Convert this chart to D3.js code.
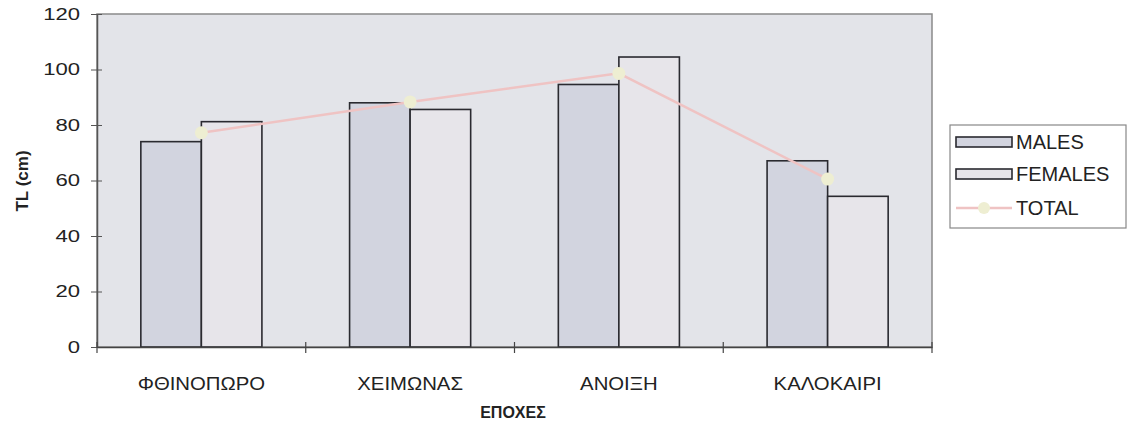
<!DOCTYPE html>
<html><head><meta charset="utf-8">
<script src="https://cdn.jsdelivr.net/npm/d3@7"></script>
<style>body{margin:0;background:#fff;} svg{display:block;font-family:"Liberation Sans",Arial,sans-serif;}</style>
</head><body>
<svg id="c" width="1128" height="430"></svg>
<script>
const categories = ["ΦΘΙΝΟΠΩΡΟ", "ΧΕΙΜΩΝΑΣ", "ΑΝΟΙΞΗ", "ΚΑΛΟΚΑΙΡΙ"];
const males = [74.0, 88.0, 94.6, 67.1];
const females = [81.2, 85.6, 104.5, 54.3];
const total = [77.2, 88.3, 98.6, 60.5];
const yTicks = [0, 20, 40, 60, 80, 100, 120];
const seriesNames = ["MALES", "FEMALES", "TOTAL"];

const svg = d3.select("#c");
const L = 97, R = 932, T = 14, B = 347;
const x0 = d3.scaleBand().domain(categories).range([L, R]).paddingInner(0.42).paddingOuter(0.21);
const x1 = d3.scaleBand().domain([0, 1]).range([0, x0.bandwidth()]);
const y = d3.scaleLinear().domain([0, 120]).range([B, T]);

// plot area
svg.append("rect").attr("x", L).attr("y", T).attr("width", R - L).attr("height", B - T)
  .attr("fill", "#e3e4e9").attr("stroke", "#8a8a8a").attr("stroke-width", 1.5);

const cols = {m: "#d2d4df", f: "#e7e5ea"};
const g = svg.append("g");
categories.forEach((c, i) => {
  [[males[i], cols.m, 0], [females[i], cols.f, 1]].forEach(([v, col, k]) => {
    g.append("rect").attr("x", x0(c) + x1(k)).attr("y", y(v))
      .attr("width", x1.bandwidth()).attr("height", y(0) - y(v))
      .attr("fill", col).attr("stroke", "#2a2a30").attr("stroke-width", 1.6);
  });
});

// axes
const ySx = 1.3;
const yAxis = d3.axisLeft(y).tickValues(yTicks).tickSizeInner(6).tickSizeOuter(0);
const ya = svg.append("g").attr("transform", `translate(${L},0)`).call(yAxis);
ya.select(".domain").attr("stroke", "#555").attr("stroke-width", 1.5);
ya.selectAll(".tick line").attr("stroke", "#555").attr("x2", 5).attr("x1", -6);
ya.selectAll(".tick text").attr("font-size", 17).attr("fill", "#222")
  .attr("x", -17 / ySx).attr("transform", `scale(${ySx},1)`);

const xSx = 1.13;
const xAxis = d3.axisBottom(x0).tickSize(0).tickPadding(30);
const xa = svg.append("g").attr("transform", `translate(0,${B})`).call(xAxis);
xa.select(".domain").attr("stroke", "#444").attr("stroke-width", 1.5);
xa.selectAll(".tick text").attr("font-size", 18).attr("fill", "#222")
  .attr("transform", `scale(${xSx},1)`);
// category separators ticks
const sep = categories.map(c => x0(c) - x0.step() * 0.21).concat([R]);
svg.append("g").selectAll("line").data(sep).join("line")
  .attr("x1", d => d).attr("x2", d => d).attr("y1", B - 5).attr("y2", B + 6)
  .attr("stroke", "#444").attr("stroke-width", 1.2);

// total line
const line = d3.line().x((d, i) => x0(categories[i]) + x0.bandwidth() / 2).y(d => y(d));
svg.append("path").datum(total).attr("d", line).attr("fill", "none")
  .attr("stroke", "#efc3c3").attr("stroke-width", 2.5);
svg.append("g").selectAll("circle").data(total).join("circle")
  .attr("cx", (d, i) => x0(categories[i]) + x0.bandwidth() / 2).attr("cy", d => y(d))
  .attr("r", 6.5).attr("fill", "#eeeed2");

// axis titles
svg.append("text").attr("x", 513).attr("y", 418).attr("text-anchor", "middle")
  .attr("font-size", 16).attr("font-weight", "bold").attr("fill", "#222").text("ΕΠΟΧΕΣ");
svg.append("text").attr("transform", "translate(28,181) rotate(-90)").attr("text-anchor", "middle")
  .attr("font-size", 17).attr("font-weight", "bold").attr("fill", "#222").text("TL (cm)");

// legend
const lg = svg.append("g");
lg.append("rect").attr("x", 950).attr("y", 125).attr("width", 176).attr("height", 103)
  .attr("fill", "#fff").attr("stroke", "#888").attr("stroke-width", 1.2);
const ly = [142, 174, 208];
lg.append("rect").attr("x", 956).attr("y", ly[0] - 5).attr("width", 56).attr("height", 10)
  .attr("fill", cols.m).attr("stroke", "#2a2a30").attr("stroke-width", 1.6);
lg.append("rect").attr("x", 956).attr("y", ly[1] - 5).attr("width", 56).attr("height", 10)
  .attr("fill", cols.f).attr("stroke", "#2a2a30").attr("stroke-width", 1.6);
lg.append("line").attr("x1", 956).attr("x2", 1012).attr("y1", ly[2]).attr("y2", ly[2])
  .attr("stroke", "#efc3c3").attr("stroke-width", 2.5);
lg.append("circle").attr("cx", 984).attr("cy", ly[2]).attr("r", 6).attr("fill", "#eeeed2");
seriesNames.forEach((n, i) => {
  lg.append("text").attr("x", 1016).attr("y", ly[i]).attr("dy", "0.36em")
    .attr("font-size", 20).attr("fill", "#222").text(n);
});
</script>
</body></html>
